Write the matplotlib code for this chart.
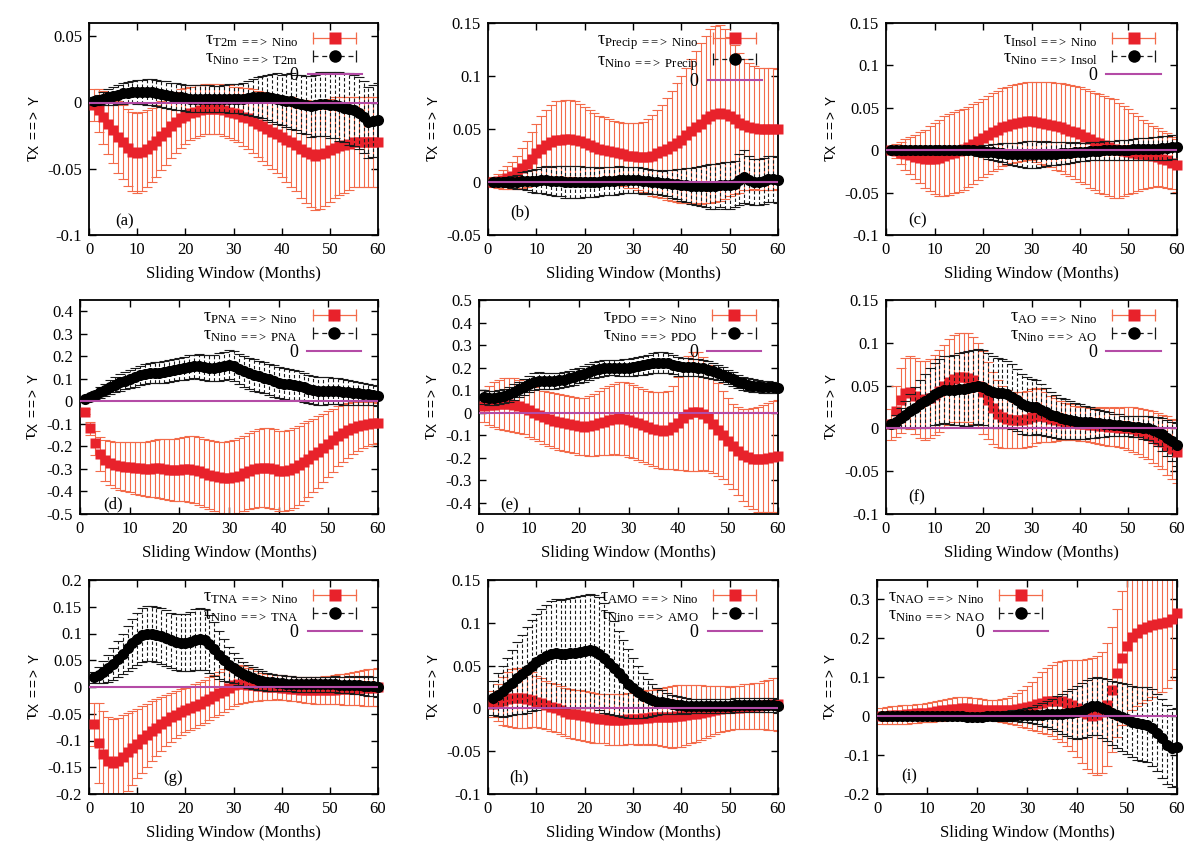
import numpy as np
import matplotlib
matplotlib.use("Agg")
import matplotlib.pyplot as plt
from matplotlib.lines import Line2D
from matplotlib.legend_handler import HandlerLine2D, HandlerTuple
from matplotlib.ticker import FuncFormatter, MultipleLocator

plt.rcParams['font.family'] = ['Liberation Serif', 'DejaVu Serif']
plt.rcParams['mathtext.fontset'] = 'custom'
plt.rcParams['mathtext.rm'] = 'Liberation Serif'
plt.rcParams['mathtext.it'] = 'Liberation Serif:italic'
plt.rcParams['mathtext.sf'] = 'Liberation Sans'

months = list(range(1, 61))

# ---- (a) T2m
a_red = [-0.002, -0.006, -0.011, -0.016, -0.021, -0.026, -0.030, -0.034, -0.037, -0.038,
         -0.037, -0.035, -0.032, -0.029, -0.025, -0.022, -0.018, -0.015, -0.012, -0.010,
         -0.008, -0.007, -0.006, -0.005, -0.005, -0.005, -0.005, -0.006, -0.007, -0.008,
         -0.009, -0.011, -0.012, -0.014, -0.016, -0.018, -0.020, -0.022, -0.024, -0.026,
         -0.028, -0.030, -0.032, -0.035, -0.037, -0.039, -0.040, -0.039, -0.038, -0.036,
         -0.034, -0.033, -0.032, -0.031, -0.030, -0.030, -0.030, -0.030, -0.030, -0.030]
a_red_err = [0.012, 0.016, 0.020, 0.023, 0.025, 0.027, 0.028, 0.029, 0.030, 0.030,
             0.030, 0.029, 0.028, 0.027, 0.026, 0.025, 0.024, 0.023, 0.022, 0.021,
             0.020, 0.020, 0.019, 0.019, 0.019, 0.019, 0.019, 0.019, 0.020, 0.020,
             0.021, 0.022, 0.023, 0.024, 0.025, 0.026, 0.027, 0.028, 0.029, 0.030,
             0.032, 0.034, 0.035, 0.037, 0.039, 0.040, 0.041, 0.041, 0.040, 0.039,
             0.038, 0.037, 0.036, 0.035, 0.034, 0.034, 0.034, 0.034, 0.034, 0.034]
a_blk = [0.001, 0.002, 0.003, 0.004, 0.005, 0.006, 0.007, 0.0075, 0.008, 0.008,
         0.008, 0.008, 0.008, 0.007, 0.0065, 0.006, 0.005, 0.0045, 0.004, 0.0035,
         0.003, 0.003, 0.003, 0.003, 0.003, 0.0025, 0.0025, 0.003, 0.003, 0.003,
         0.003, 0.003, 0.0035, 0.004, 0.004, 0.004, 0.004, 0.0035, 0.003, 0.002,
         0.0015, 0.001, 0.0, -0.001, -0.002, -0.003, -0.002, -0.001, -0.001, -0.002,
         -0.002, -0.003, -0.004, -0.005, -0.006, -0.008, -0.011, -0.015, -0.014, -0.013]
a_blk_err = [0.003, 0.004, 0.005, 0.006, 0.007, 0.007, 0.008, 0.008, 0.008, 0.009,
             0.009, 0.010, 0.010, 0.010, 0.010, 0.010, 0.010, 0.010, 0.010, 0.010,
             0.010, 0.010, 0.010, 0.010, 0.010, 0.010, 0.010, 0.010, 0.011, 0.011,
             0.011, 0.012, 0.013, 0.014, 0.015, 0.016, 0.017, 0.018, 0.019, 0.019,
             0.020, 0.021, 0.021, 0.022, 0.022, 0.023, 0.023, 0.024, 0.024, 0.025,
             0.025, 0.026, 0.026, 0.027, 0.027, 0.027, 0.027, 0.027, 0.027, 0.028]

# ---- (b) Precip
b_red = [0.000, 0.001, 0.002, 0.004, 0.006, 0.009, 0.013, 0.017, 0.022, 0.027,
         0.031, 0.035, 0.038, 0.040, 0.040, 0.041, 0.041, 0.040, 0.039, 0.037,
         0.035, 0.033, 0.031, 0.030, 0.029, 0.028, 0.027, 0.026, 0.025, 0.025,
         0.024, 0.024, 0.024, 0.025, 0.027, 0.029, 0.031, 0.034, 0.037, 0.040,
         0.044, 0.048, 0.052, 0.055, 0.059, 0.062, 0.064, 0.065, 0.064, 0.062,
         0.059, 0.056, 0.054, 0.052, 0.051, 0.050, 0.050, 0.050, 0.050, 0.050]
b_red_err = [0.005, 0.007, 0.009, 0.011, 0.013, 0.016, 0.019, 0.022, 0.025, 0.028,
             0.031, 0.033, 0.035, 0.036, 0.036, 0.036, 0.036, 0.036, 0.035, 0.034,
             0.033, 0.032, 0.031, 0.031, 0.030, 0.030, 0.030, 0.030, 0.031, 0.031,
             0.032, 0.033, 0.035, 0.038, 0.041, 0.044, 0.048, 0.052, 0.056, 0.060,
             0.064, 0.068, 0.072, 0.076, 0.079, 0.082, 0.083, 0.083, 0.080, 0.075,
             0.070, 0.066, 0.062, 0.060, 0.058, 0.058, 0.058, 0.058, 0.058, 0.057]
b_blk = [0.000, 0.000, 0.000, 0.000, 0.000, 0.000, 0.001, 0.001, 0.001, 0.001,
         0.002, 0.002, 0.001, 0.001, 0.001, 0.000, 0.000, 0.000, 0.000, 0.000,
         0.000, 0.000, 0.000, 0.001, 0.001, 0.001, 0.002, 0.002, 0.002, 0.002,
         0.002, 0.001, 0.001, 0.000, 0.000, -0.001, -0.001, -0.002, -0.002, -0.003,
         -0.003, -0.004, -0.004, -0.004, -0.004, -0.004, -0.004, -0.003, -0.003, -0.003,
         -0.002, 0.002, 0.005, 0.002, 0.000, 0.000, 0.001, 0.003, 0.003, 0.002]
b_blk_err = [0.002, 0.003, 0.004, 0.005, 0.006, 0.007, 0.008, 0.009, 0.010, 0.011,
             0.012, 0.013, 0.013, 0.014, 0.014, 0.015, 0.015, 0.015, 0.015, 0.014,
             0.014, 0.014, 0.013, 0.013, 0.013, 0.013, 0.013, 0.012, 0.012, 0.012,
             0.012, 0.012, 0.011, 0.011, 0.011, 0.011, 0.012, 0.013, 0.014, 0.015,
             0.016, 0.017, 0.018, 0.019, 0.020, 0.021, 0.021, 0.021, 0.022, 0.022,
             0.022, 0.024, 0.025, 0.023, 0.022, 0.022, 0.022, 0.022, 0.022, 0.022]

# ---- (c) Insol
c_red = [0.000, -0.001, -0.003, -0.005, -0.006, -0.008, -0.009, -0.010, -0.010, -0.010,
         -0.009, -0.007, -0.005, -0.003, -0.001, 0.001, 0.004, 0.007, 0.011, 0.014,
         0.018, 0.021, 0.024, 0.027, 0.029, 0.031, 0.032, 0.033, 0.034, 0.034,
         0.033, 0.032, 0.031, 0.030, 0.028, 0.027, 0.025, 0.023, 0.021, 0.019,
         0.016, 0.013, 0.010, 0.008, 0.006, 0.004, 0.002, 0.000, -0.001, -0.002,
         -0.003, -0.004, -0.005, -0.006, -0.007, -0.008, -0.010, -0.012, -0.015, -0.018]
c_red_err = [0.004, 0.008, 0.013, 0.018, 0.022, 0.026, 0.030, 0.034, 0.038, 0.042,
             0.045, 0.047, 0.048, 0.048, 0.048, 0.048, 0.047, 0.047, 0.046, 0.046,
             0.046, 0.046, 0.046, 0.046, 0.046, 0.046, 0.046, 0.046, 0.046, 0.046,
             0.047, 0.048, 0.049, 0.050, 0.051, 0.052, 0.053, 0.054, 0.055, 0.056,
             0.056, 0.057, 0.057, 0.058, 0.058, 0.058, 0.058, 0.056, 0.053, 0.050,
             0.047, 0.044, 0.041, 0.038, 0.036, 0.034, 0.033, 0.032, 0.031, 0.031]
c_blk = [0.000, 0.000, 0.000, 0.000, 0.000, 0.000, 0.000, 0.000, 0.000, 0.000,
         0.000, 0.000, 0.000, 0.000, 0.000, 0.000, 0.000, 0.000, -0.001, -0.001,
         -0.002, -0.002, -0.003, -0.003, -0.004, -0.004, -0.005, -0.005, -0.005, -0.005,
         -0.005, -0.005, -0.004, -0.004, -0.004, -0.003, -0.003, -0.003, -0.002, -0.002,
         -0.002, -0.001, -0.001, -0.001, 0.000, 0.000, 0.000, 0.000, 0.000, 0.000,
         0.001, 0.001, 0.001, 0.001, 0.002, 0.002, 0.003, 0.003, 0.004, 0.004]
c_blk_err = [0.002, 0.002, 0.003, 0.003, 0.003, 0.003, 0.004, 0.004, 0.004, 0.004,
             0.004, 0.004, 0.004, 0.004, 0.004, 0.004, 0.005, 0.005, 0.006, 0.007,
             0.008, 0.009, 0.010, 0.011, 0.012, 0.013, 0.014, 0.015, 0.016, 0.016,
             0.016, 0.015, 0.015, 0.014, 0.014, 0.013, 0.013, 0.012, 0.012, 0.011,
             0.011, 0.011, 0.011, 0.011, 0.011, 0.011, 0.011, 0.012, 0.012, 0.012,
             0.012, 0.013, 0.013, 0.013, 0.013, 0.013, 0.014, 0.014, 0.014, 0.014]

# ---- (d) PNA
d_red = [-0.045, -0.120, -0.185, -0.235, -0.262, -0.275, -0.282, -0.287, -0.290, -0.292,
         -0.295, -0.298, -0.300, -0.300, -0.298, -0.298, -0.300, -0.303, -0.305, -0.303,
         -0.300, -0.300, -0.303, -0.310, -0.318, -0.325, -0.332, -0.337, -0.340, -0.340,
         -0.337, -0.330, -0.320, -0.310, -0.302, -0.297, -0.295, -0.297, -0.302, -0.308,
         -0.310, -0.305, -0.295, -0.283, -0.270, -0.255, -0.240, -0.225, -0.208, -0.190,
         -0.172, -0.155, -0.140, -0.128, -0.118, -0.110, -0.105, -0.100, -0.097, -0.095]
d_red_err = [0.010, 0.030, 0.055, 0.075, 0.090, 0.098, 0.103, 0.107, 0.110, 0.112,
             0.115, 0.118, 0.121, 0.124, 0.127, 0.130, 0.133, 0.136, 0.139, 0.141,
             0.143, 0.145, 0.148, 0.150, 0.152, 0.154, 0.156, 0.158, 0.160, 0.162,
             0.164, 0.166, 0.168, 0.170, 0.172, 0.174, 0.176, 0.177, 0.178, 0.178,
             0.178, 0.178, 0.177, 0.175, 0.172, 0.168, 0.163, 0.158, 0.152, 0.146,
             0.140, 0.134, 0.128, 0.122, 0.116, 0.110, 0.104, 0.098, 0.093, 0.088]
d_blk = [0.010, 0.020, 0.030, 0.040, 0.052, 0.063, 0.074, 0.084, 0.092, 0.100,
         0.108, 0.115, 0.121, 0.125, 0.127, 0.128, 0.130, 0.134, 0.139, 0.144,
         0.148, 0.152, 0.155, 0.155, 0.152, 0.148, 0.148, 0.152, 0.158, 0.163,
         0.158, 0.145, 0.133, 0.124, 0.117, 0.111, 0.105, 0.098, 0.090, 0.083,
         0.078, 0.076, 0.074, 0.070, 0.063, 0.055, 0.050, 0.048, 0.047, 0.047,
         0.046, 0.045, 0.043, 0.041, 0.039, 0.037, 0.034, 0.031, 0.028, 0.025]
d_blk_err = [0.008, 0.013, 0.018, 0.023, 0.027, 0.030, 0.033, 0.036, 0.038, 0.040,
             0.042, 0.043, 0.044, 0.045, 0.046, 0.047, 0.048, 0.049, 0.050, 0.050,
             0.051, 0.052, 0.053, 0.054, 0.055, 0.057, 0.059, 0.061, 0.063, 0.065,
             0.066, 0.067, 0.068, 0.068, 0.069, 0.069, 0.070, 0.070, 0.070, 0.070,
             0.069, 0.068, 0.067, 0.066, 0.065, 0.064, 0.063, 0.062, 0.061, 0.060,
             0.059, 0.058, 0.057, 0.055, 0.053, 0.051, 0.049, 0.047, 0.046, 0.045]

# ---- (e) PDO
e_red = [0.030, 0.032, 0.035, 0.037, 0.038, 0.037, 0.034, 0.028, 0.020, 0.010,
         0.000, -0.010, -0.020, -0.030, -0.037, -0.042, -0.046, -0.050, -0.055, -0.060,
         -0.062, -0.060, -0.055, -0.048, -0.040, -0.033, -0.028, -0.026, -0.028, -0.033,
         -0.040, -0.048, -0.057, -0.066, -0.073, -0.078, -0.080, -0.077, -0.066, -0.048,
         -0.025, -0.005, 0.005, 0.005, -0.005, -0.025, -0.050, -0.075, -0.100, -0.125,
         -0.150, -0.170, -0.187, -0.198, -0.205, -0.207, -0.205, -0.200, -0.195, -0.192]
e_red_err = [0.070, 0.085, 0.100, 0.110, 0.115, 0.118, 0.118, 0.118, 0.117, 0.116,
             0.116, 0.117, 0.118, 0.120, 0.122, 0.123, 0.124, 0.125, 0.125, 0.126,
             0.128, 0.132, 0.137, 0.142, 0.148, 0.153, 0.157, 0.160, 0.162, 0.163,
             0.163, 0.163, 0.163, 0.164, 0.166, 0.168, 0.170, 0.175, 0.185, 0.205,
             0.230, 0.255, 0.265, 0.262, 0.250, 0.235, 0.220, 0.205, 0.195, 0.190,
             0.190, 0.195, 0.205, 0.215, 0.225, 0.232, 0.238, 0.242, 0.245, 0.248]
e_blk = [0.070, 0.066, 0.065, 0.068, 0.074, 0.082, 0.092, 0.103, 0.115, 0.127,
         0.137, 0.141, 0.140, 0.139, 0.140, 0.143, 0.147, 0.152, 0.158, 0.165,
         0.173, 0.181, 0.188, 0.194, 0.198, 0.200, 0.200, 0.199, 0.199, 0.200,
         0.202, 0.205, 0.210, 0.215, 0.219, 0.222, 0.222, 0.219, 0.213, 0.206,
         0.203, 0.202, 0.201, 0.199, 0.196, 0.191, 0.185, 0.177, 0.168, 0.158,
         0.148, 0.138, 0.130, 0.124, 0.120, 0.117, 0.115, 0.114, 0.112, 0.110]
e_blk_err = [0.030, 0.030, 0.030, 0.031, 0.032, 0.033, 0.034, 0.035, 0.036, 0.037,
             0.038, 0.038, 0.037, 0.036, 0.035, 0.035, 0.035, 0.035, 0.035, 0.035,
             0.035, 0.035, 0.035, 0.035, 0.035, 0.035, 0.035, 0.036, 0.037, 0.038,
             0.039, 0.040, 0.042, 0.043, 0.044, 0.045, 0.045, 0.044, 0.043, 0.042,
             0.041, 0.040, 0.039, 0.038, 0.037, 0.036, 0.035, 0.034, 0.033, 0.032,
             0.031, 0.030, 0.029, 0.028, 0.028, 0.027, 0.027, 0.026, 0.026, 0.025]

# ---- (f) AO
f_red = [0.005, 0.020, 0.033, 0.041, 0.042, 0.038, 0.034, 0.033, 0.035, 0.039,
         0.044, 0.049, 0.054, 0.058, 0.060, 0.060, 0.059, 0.056, 0.050, 0.042,
         0.033, 0.024, 0.017, 0.013, 0.011, 0.010, 0.010, 0.010, 0.011, 0.013,
         0.015, 0.015, 0.013, 0.011, 0.010, 0.009, 0.008, 0.007, 0.006, 0.005,
         0.005, 0.004, 0.004, 0.003, 0.003, 0.002, 0.002, 0.001, 0.001, 0.000,
         -0.001, -0.003, -0.005, -0.007, -0.010, -0.013, -0.016, -0.020, -0.024, -0.027]
f_red_err = [0.018, 0.030, 0.038, 0.041, 0.043, 0.044, 0.045, 0.046, 0.046, 0.047,
             0.048, 0.049, 0.050, 0.051, 0.052, 0.052, 0.052, 0.051, 0.050, 0.048,
             0.045, 0.042, 0.039, 0.036, 0.034, 0.033, 0.033, 0.033, 0.033, 0.033,
             0.032, 0.031, 0.029, 0.027, 0.025, 0.023, 0.022, 0.021, 0.020, 0.020,
             0.020, 0.020, 0.021, 0.021, 0.022, 0.022, 0.023, 0.023, 0.024, 0.025,
             0.026, 0.027, 0.028, 0.029, 0.030, 0.031, 0.032, 0.034, 0.035, 0.037]
f_blk = [0.005, 0.008, 0.012, 0.016, 0.020, 0.024, 0.028, 0.032, 0.036, 0.040,
         0.043, 0.045, 0.045, 0.045, 0.046, 0.046, 0.047, 0.048, 0.049, 0.048,
         0.045, 0.042, 0.041, 0.041, 0.040, 0.037, 0.033, 0.029, 0.026, 0.025,
         0.025, 0.022, 0.019, 0.016, 0.014, 0.012, 0.011, 0.010, 0.009, 0.008,
         0.007, 0.007, 0.006, 0.006, 0.005, 0.005, 0.004, 0.004, 0.003, 0.003,
         0.002, 0.002, 0.001, 0.000, -0.002, -0.004, -0.007, -0.011, -0.015, -0.019]
f_blk_err = [0.004, 0.008, 0.012, 0.016, 0.020, 0.024, 0.028, 0.031, 0.034, 0.036,
             0.038, 0.039, 0.040, 0.041, 0.042, 0.043, 0.044, 0.044, 0.044, 0.044,
             0.043, 0.042, 0.041, 0.040, 0.039, 0.038, 0.036, 0.035, 0.034, 0.033,
             0.032, 0.030, 0.028, 0.026, 0.025, 0.024, 0.023, 0.022, 0.021, 0.020,
             0.019, 0.018, 0.017, 0.016, 0.015, 0.014, 0.013, 0.013, 0.012, 0.012,
             0.012, 0.012, 0.013, 0.014, 0.015, 0.017, 0.019, 0.021, 0.023, 0.025]

# ---- (g) TNA
g_red = [-0.070, -0.105, -0.125, -0.138, -0.142, -0.138, -0.130, -0.122, -0.114, -0.106,
         -0.098, -0.090, -0.083, -0.076, -0.069, -0.063, -0.057, -0.052, -0.047, -0.043,
         -0.039, -0.035, -0.031, -0.027, -0.022, -0.017, -0.012, -0.007, -0.002, 0.003,
         0.005, 0.005, 0.004, 0.003, 0.002, 0.001, 0.000, 0.000, 0.000, -0.001,
         -0.002, -0.003, -0.004, -0.005, -0.005, -0.005, -0.006, -0.006, -0.006, -0.005,
         -0.005, -0.004, -0.004, -0.003, -0.003, -0.002, -0.002, -0.001, -0.001, 0.000]
g_red_err = [0.040, 0.075, 0.080, 0.082, 0.082, 0.080, 0.077, 0.073, 0.069, 0.065,
             0.062, 0.059, 0.056, 0.053, 0.050, 0.048, 0.046, 0.044, 0.043, 0.042,
             0.041, 0.041, 0.040, 0.040, 0.040, 0.040, 0.040, 0.040, 0.039, 0.038,
             0.036, 0.034, 0.032, 0.030, 0.028, 0.026, 0.025, 0.024, 0.023, 0.023,
             0.023, 0.023, 0.023, 0.023, 0.024, 0.024, 0.025, 0.025, 0.026, 0.026,
             0.027, 0.028, 0.029, 0.030, 0.031, 0.032, 0.033, 0.034, 0.034, 0.035]
g_blk = [0.018, 0.022, 0.028, 0.035, 0.043, 0.052, 0.062, 0.072, 0.082, 0.090,
         0.097, 0.100, 0.100, 0.098, 0.095, 0.091, 0.087, 0.084, 0.083, 0.083,
         0.085, 0.088, 0.090, 0.088, 0.081, 0.071, 0.060, 0.050, 0.042, 0.035,
         0.029, 0.024, 0.020, 0.017, 0.014, 0.012, 0.010, 0.009, 0.008, 0.007,
         0.006, 0.006, 0.005, 0.005, 0.005, 0.005, 0.005, 0.005, 0.005, 0.005,
         0.005, 0.004, 0.004, 0.004, 0.003, 0.003, 0.002, 0.002, 0.001, 0.000]
g_blk_err = [0.010, 0.015, 0.020, 0.025, 0.030, 0.034, 0.038, 0.042, 0.046, 0.049,
             0.051, 0.052, 0.052, 0.052, 0.052, 0.052, 0.052, 0.053, 0.053, 0.054,
             0.055, 0.057, 0.058, 0.057, 0.054, 0.050, 0.045, 0.039, 0.033, 0.028,
             0.025, 0.023, 0.021, 0.020, 0.019, 0.018, 0.017, 0.016, 0.015, 0.015,
             0.014, 0.014, 0.014, 0.014, 0.014, 0.014, 0.014, 0.014, 0.014, 0.014,
             0.015, 0.015, 0.015, 0.016, 0.016, 0.017, 0.017, 0.018, 0.018, 0.019]

# ---- (h) AMO
h_red = [0.005, 0.007, 0.009, 0.011, 0.012, 0.012, 0.012, 0.011, 0.010, 0.008,
         0.006, 0.004, 0.002, 0.000, -0.002, -0.004, -0.006, -0.007, -0.008, -0.009,
         -0.010, -0.011, -0.012, -0.012, -0.013, -0.013, -0.013, -0.013, -0.012, -0.012,
         -0.012, -0.011, -0.011, -0.010, -0.010, -0.010, -0.010, -0.010, -0.009, -0.009,
         -0.008, -0.007, -0.006, -0.005, -0.004, -0.003, -0.002, -0.001, 0.000, 0.000,
         0.001, 0.001, 0.002, 0.002, 0.003, 0.003, 0.004, 0.004, 0.005, 0.005]
h_red_err = [0.015, 0.022, 0.028, 0.032, 0.034, 0.035, 0.035, 0.034, 0.032, 0.030,
             0.029, 0.028, 0.028, 0.028, 0.028, 0.028, 0.029, 0.029, 0.029, 0.029,
             0.029, 0.029, 0.029, 0.029, 0.030, 0.030, 0.030, 0.030, 0.030, 0.030,
             0.031, 0.031, 0.032, 0.032, 0.033, 0.034, 0.035, 0.036, 0.036, 0.036,
             0.035, 0.034, 0.033, 0.032, 0.030, 0.029, 0.028, 0.027, 0.026, 0.025,
             0.025, 0.025, 0.026, 0.026, 0.027, 0.027, 0.028, 0.029, 0.030, 0.031]
h_blk = [0.012, 0.016, 0.020, 0.025, 0.030, 0.035, 0.040, 0.045, 0.050, 0.054,
         0.058, 0.061, 0.063, 0.065, 0.064, 0.064, 0.065, 0.065, 0.066, 0.067,
         0.068, 0.067, 0.064, 0.059, 0.053, 0.047, 0.041, 0.035, 0.029, 0.024,
         0.019, 0.015, 0.012, 0.010, 0.008, 0.007, 0.006, 0.005, 0.004, 0.004,
         0.003, 0.003, 0.003, 0.003, 0.003, 0.003, 0.003, 0.003, 0.003, 0.003,
         0.004, 0.004, 0.004, 0.004, 0.004, 0.004, 0.004, 0.004, 0.004, 0.003]
h_blk_err = [0.020, 0.025, 0.030, 0.034, 0.038, 0.042, 0.046, 0.050, 0.053, 0.056,
             0.058, 0.060, 0.062, 0.063, 0.063, 0.064, 0.064, 0.065, 0.065, 0.066,
             0.066, 0.066, 0.066, 0.064, 0.060, 0.055, 0.050, 0.045, 0.040, 0.035,
             0.030, 0.026, 0.022, 0.019, 0.016, 0.014, 0.012, 0.011, 0.010, 0.009,
             0.009, 0.008, 0.008, 0.008, 0.008, 0.008, 0.008, 0.008, 0.008, 0.008,
             0.008, 0.008, 0.008, 0.008, 0.008, 0.008, 0.008, 0.008, 0.008, 0.008]

# ---- (i) NAO
i_red = [0.000, 0.001, 0.002, 0.003, 0.004, 0.005, 0.006, 0.007, 0.008, 0.009,
         0.011, 0.013, 0.015, 0.017, 0.018, 0.019, 0.020, 0.020, 0.019, 0.018,
         0.017, 0.016, 0.015, 0.015, 0.015, 0.015, 0.016, 0.018, 0.020, 0.023,
         0.027, 0.031, 0.035, 0.038, 0.040, 0.040, 0.038, 0.034, 0.028, 0.020,
         0.012, 0.005, 0.001, 0.002, 0.010, 0.030, 0.068, 0.111, 0.150, 0.180,
         0.204, 0.215, 0.224, 0.230, 0.235, 0.238, 0.240, 0.243, 0.250, 0.265]
i_red_err = [0.020, 0.022, 0.023, 0.024, 0.024, 0.024, 0.024, 0.024, 0.024, 0.024,
             0.025, 0.026, 0.027, 0.028, 0.029, 0.030, 0.030, 0.030, 0.029, 0.028,
             0.027, 0.026, 0.026, 0.027, 0.029, 0.032, 0.036, 0.041, 0.047, 0.054,
             0.062, 0.070, 0.078, 0.085, 0.092, 0.098, 0.104, 0.110, 0.117, 0.125,
             0.133, 0.141, 0.148, 0.152, 0.155, 0.158, 0.161, 0.165, 0.172, 0.180,
             0.187, 0.190, 0.190, 0.188, 0.185, 0.182, 0.178, 0.170, 0.158, 0.145]
i_blk = [0.000, 0.000, 0.000, 0.000, 0.000, 0.000, 0.000, 0.000, 0.000, 0.000,
         0.000, 0.000, 0.000, 0.000, 0.000, 0.000, 0.000, -0.001, -0.001, -0.001,
         -0.001, 0.000, 0.000, 0.000, 0.000, 0.001, 0.001, 0.002, 0.002, 0.003,
         0.003, 0.004, 0.004, 0.005, 0.005, 0.006, 0.006, 0.007, 0.008, 0.010,
         0.014, 0.020, 0.025, 0.026, 0.022, 0.015, 0.008, 0.003, -0.002, -0.008,
         -0.014, -0.018, -0.019, -0.022, -0.030, -0.042, -0.057, -0.073, -0.082, -0.080]
i_blk_err = [0.003, 0.003, 0.003, 0.003, 0.003, 0.004, 0.004, 0.004, 0.005, 0.005,
             0.005, 0.006, 0.006, 0.007, 0.007, 0.008, 0.008, 0.009, 0.009, 0.010,
             0.010, 0.011, 0.011, 0.012, 0.012, 0.013, 0.014, 0.015, 0.016, 0.018,
             0.021, 0.025, 0.029, 0.034, 0.039, 0.045, 0.051, 0.057, 0.063, 0.068,
             0.071, 0.073, 0.074, 0.075, 0.077, 0.080, 0.083, 0.086, 0.088, 0.090,
             0.092, 0.094, 0.095, 0.097, 0.099, 0.100, 0.101, 0.101, 0.101, 0.100]

panel_names = ['T2m', 'Precip', 'Insol', 'PNA', 'PDO', 'AO', 'TNA', 'AMO', 'NAO']
panel_tags = ['(a)', '(b)', '(c)', '(d)', '(e)', '(f)', '(g)', '(h)', '(i)']
red_series = [a_red, b_red, c_red, d_red, e_red, f_red, g_red, h_red, i_red]
red_errors = [a_red_err, b_red_err, c_red_err, d_red_err, e_red_err, f_red_err, g_red_err, h_red_err, i_red_err]
blk_series = [a_blk, b_blk, c_blk, d_blk, e_blk, f_blk, g_blk, h_blk, i_blk]
blk_errors = [a_blk_err, b_blk_err, c_blk_err, d_blk_err, e_blk_err, f_blk_err, g_blk_err, h_blk_err, i_blk_err]
y_limits = [(-0.1, 0.06), (-0.05, 0.15), (-0.1, 0.15), (-0.5, 0.45), (-0.45, 0.5),
            (-0.1, 0.15), (-0.2, 0.2), (-0.1, 0.15), (-0.2, 0.35)]
y_steps = [0.05, 0.05, 0.05, 0.1, 0.1, 0.05, 0.05, 0.05, 0.1]
tag_pos = [(7.3, -0.09), (6.6, -0.029), (6.6, -0.083), (6.6, -0.459), (6.2, -0.41),
           (6.4, -0.081), (17.5, -0.17), (6.5, -0.081), (6.5, -0.154)]

# axes boxes in pixels (left, right, top, bottom)
W, H = 1200, 851
boxes = [(89, 378, 23, 235), (488, 778, 23, 235), (886, 1177, 23, 235),
         (80, 378, 300, 514), (479, 778, 300, 514), (886, 1177, 300, 514),
         (89, 378, 580, 794), (488, 778, 580, 794), (877, 1177, 580, 794)]

RED = '#e8222b'
ERR_RED = '#f36b4a'
MAG = '#b44ba6'
FS = 12
ARROW = '=\\!=\\!>'

fig = plt.figure(figsize=(12, 8.51), dpi=100)
fmt = FuncFormatter(lambda v, p: ('%g' % round(v, 6)))

for k in range(9):
    l, r, t, b = boxes[k]
    ax = fig.add_axes([l / W, 1 - b / H, (r - l) / W, (b - t) / H])
    x = months
    ax.errorbar(x, red_series[k], yerr=red_errors[k], fmt='none', ecolor=ERR_RED,
                elinewidth=0.8, capsize=3.5, capthick=0.8, zorder=2)
    ax.plot(x, red_series[k], 's', color=RED, ms=7.5, mec='none', zorder=3, clip_on=False)
    eb2 = ax.errorbar(x, blk_series[k], yerr=blk_errors[k], fmt='none', ecolor='#1a1a1a',
                      elinewidth=0.8, capsize=3.5, capthick=0.8, zorder=4)
    eb2[2][0].set_linestyle((0, (3, 2)))
    ax.plot(x, blk_series[k], 'o', color='k', ms=8, mec='none', zorder=5, clip_on=False)
    ax.plot([0, 60], [0, 0], color=MAG, lw=1.5, zorder=6)

    ax.set_xlim(0, 60)
    ax.set_ylim(*y_limits[k])
    ax.xaxis.set_major_locator(MultipleLocator(10))
    ax.yaxis.set_major_locator(MultipleLocator(y_steps[k]))
    ax.xaxis.set_major_formatter(fmt)
    ax.yaxis.set_major_formatter(fmt)
    ax.tick_params(direction='in', top=True, right=True, length=5, width=1,
                   labelsize=FS, pad=5)
    for s in ax.spines.values():
        s.set_linewidth(1.3)
    ax.set_xlabel('Sliding Window (Months)', fontsize=FS, labelpad=6)
    ax.set_ylabel(u'\u03c4$_{\\mathsf{X\\ %s\\ Y}}$' % ARROW, fontsize=FS + 2, labelpad=4)
    ax.text(tag_pos[k][0], tag_pos[k][1], panel_tags[k], fontsize=FS, ha='center', va='center')

    name = panel_names[k]
    red_bar = Line2D([], [], color=ERR_RED, lw=0.9, marker='|', ms=8, mew=0.9)
    red_pt = Line2D([], [], color=RED, ls='none', marker='s', ms=8, mec='none')
    blk_bar = Line2D([], [], color='#1a1a1a', lw=0.9, ls=(0, (4, 3)), marker='|', ms=8, mew=0.9)
    blk_pt = Line2D([], [], color='k', ls='none', marker='o', ms=9, mec='none')
    zero_h = Line2D([], [], color=MAG, lw=1.5)
    hmap = {tuple: HandlerTuple(ndivide=1, pad=0),
            red_bar: HandlerLine2D(numpoints=2), blk_bar: HandlerLine2D(numpoints=2),
            red_pt: HandlerLine2D(numpoints=1), blk_pt: HandlerLine2D(numpoints=1)}
    labels = [u'\u03c4$_{\\mathrm{%s\\ %s\\ Nino}}$' % (name, ARROW),
              u'\u03c4$_{\\mathrm{Nino\\ %s\\ %s}}$' % (ARROW, name), '0']
    if k == 8:
        loc, anchor = 'upper left', (0.03, 0.97)
    else:
        loc, anchor = 'upper right', (0.95, 0.97)
    ax.legend([(red_bar, red_pt), (blk_bar, blk_pt), zero_h], labels, handler_map=hmap,
              loc=loc, bbox_to_anchor=anchor, frameon=False, markerfirst=False,
              fontsize=FS + 1, handlelength=3.0, handletextpad=0.5, labelspacing=0.02,
              borderpad=0.1, borderaxespad=0.0)

fig.savefig('out.png', dpi=100)
